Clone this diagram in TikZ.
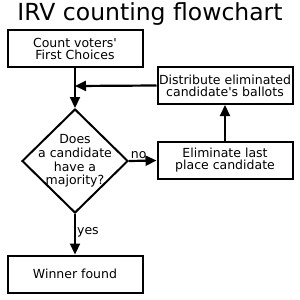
\documentclass[tikz,border=0pt]{standalone}
\usepackage{fontspec}
\setmainfont{DejaVu Sans}
\usetikzlibrary{arrows.meta,shapes.geometric}
\begin{document}
\begin{tikzpicture}[x=1pt,y=-1pt,
  box/.style={draw,line width=2pt,minimum width=135pt,minimum height=37pt,inner sep=0pt,align=center,font=\fontsize{12.5}{12}\selectfont},
  dec/.style={draw,line width=2pt,diamond,minimum width=106pt,minimum height=104pt,inner sep=0pt},
  dectext/.style={align=center,inner sep=0pt,font=\fontsize{12.5}{13.7}\selectfont},
  arr/.style={line width=2.2pt,-{Triangle[length=11pt,width=10pt]}},
  lbl/.style={font=\fontsize{12.5}{13}\selectfont,inner sep=1pt}]
\useasboundingbox (0,0) rectangle (300,300);
\node (title) at (150,14) {\fontsize{23.5}{26}\selectfont IRV counting flowchart};
\node[box] (count) at (75,48.5) {Count voters\textquotesingle\\First Choices};
\node[dec] (q) at (75,161) {};
\node[dectext] (qt) at (q.center) {Does\\a candidate\\have a\\majority?};
\node[box] (dist) at (225,85.5) {Distribute eliminated\\candidate\textquotesingle s ballots};
\node[box] (elim) at (225,160.5) {Eliminate last\\place candidate};
\node[box] (win) at (75,274) {Winner found};
\coordinate (j) at (75,86);
\draw[arr] (count.south) -- (q.north);
\draw[arr] (dist.west) -- (j);
\draw[arr] (q.east) -- node[lbl,above,pos=0.35] {no} (elim.west);
\draw[arr] (elim.north) -- (dist.south);
\draw[arr] (q.south) -- node[lbl,right,pos=0.45] {yes} (win.north);
\end{tikzpicture}
\end{document}
